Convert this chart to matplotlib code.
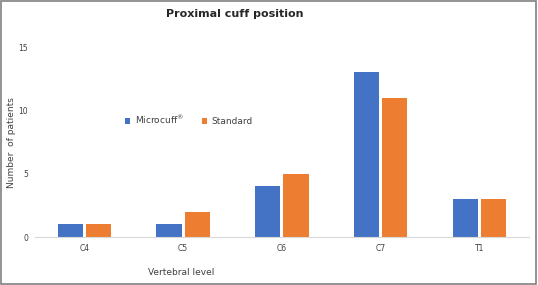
import numpy as np
import matplotlib
matplotlib.use("Agg")
import matplotlib.pyplot as plt
from matplotlib.patches import Rectangle

levels = ["C4", "C5", "C6", "C7", "T1"]
microcuff = [1, 1, 4, 13, 3]
standard = [1, 2, 5, 11, 3]
yticks = [0, 5, 10, 15]

BLUE = "#4472C4"
ORANGE = "#ED7D31"

fig = plt.figure(figsize=(5.38, 2.85), dpi=100)
ax = fig.add_axes([0.065, 0.168, 0.918, 0.667])

x = np.arange(len(levels))
w = 0.255
off = 0.143
ax.bar(x - off, microcuff, width=w, color=BLUE, label=r"Microcuff$^{\circledR}$")
ax.bar(x + off, standard, width=w, color=ORANGE, label="Standard")

ax.set_xlim(-0.5, len(levels) - 0.5)
ax.set_ylim(0, 15)
ax.set_yticks(yticks)
ax.set_xticks(x)
ax.set_xticklabels(levels)
ax.tick_params(axis="both", length=0, labelsize=5.5, colors="#404040")
ax.tick_params(axis="y", pad=5)
ax.tick_params(axis="x", pad=5)
for s in ["top", "right", "left"]:
    ax.spines[s].set_visible(False)
ax.spines["bottom"].set_color("#d9d9d9")
ax.spines["bottom"].set_linewidth(0.8)

ax.legend(loc="upper left", bbox_to_anchor=(0.165, 0.69), ncol=2, frameon=False,
          fontsize=6.5, handlelength=0.6, handleheight=0.6, columnspacing=2.0,
          handletextpad=0.5, labelcolor="#404040")

fig.text(0.437, 0.95, "Proximal cuff position", ha="center", va="center",
         fontsize=8, fontweight="bold", color="#262626")
fig.text(0.336, 0.045, "Vertebral level", ha="center", va="center",
         fontsize=6.5, color="#404040")
fig.text(0.022, 0.5, "Number  of patients", ha="center", va="center",
         rotation=90, fontsize=6.5, color="#404040")

fig.patches.append(Rectangle((0.002, 0.004), 0.995, 0.992, transform=fig.transFigure,
                             fill=False, edgecolor="#808080", linewidth=1.2))

fig.savefig("out.png", dpi=100)
